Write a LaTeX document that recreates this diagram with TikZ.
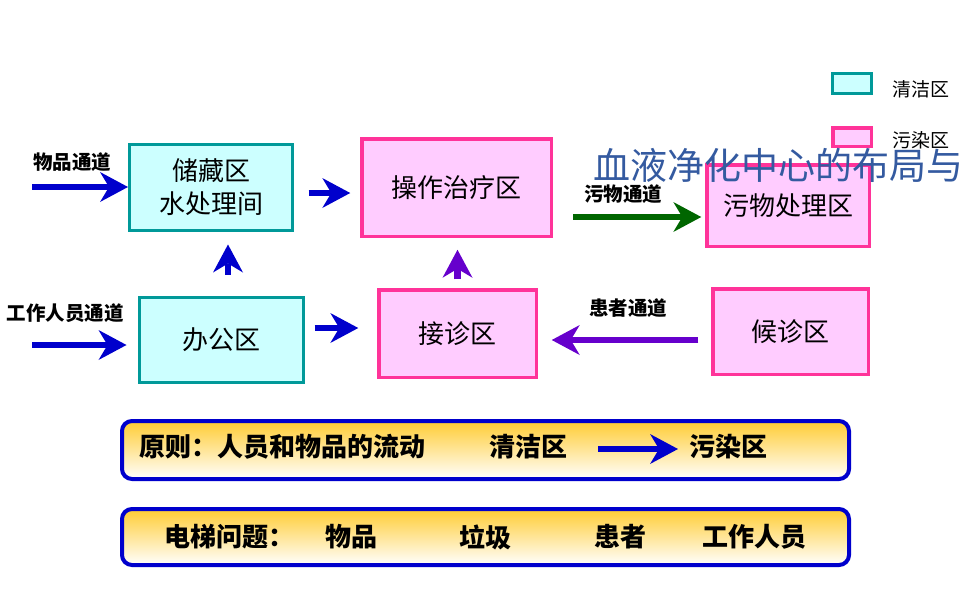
\documentclass[tikz,border=0pt]{standalone}
\usepackage{fontspec}
\setmainfont{Noto Sans CJK SC}
\usetikzlibrary{arrows.meta}
\definecolor{cleanline}{RGB}{0,153,153}
\definecolor{cleanfill}{RGB}{204,255,255}
\definecolor{dirtyline}{RGB}{255,51,153}
\definecolor{dirtyfill}{RGB}{255,204,255}
\definecolor{flowblue}{RGB}{0,0,204}
\definecolor{flowpurple}{RGB}{102,0,204}
\definecolor{flowgreen}{RGB}{0,102,0}
\definecolor{titleblue}{RGB}{52,90,160}
\definecolor{bangold}{RGB}{255,204,51}
\definecolor{banmid}{RGB}{255,236,150}
\tikzset{
  cleanbox/.style={draw=cleanline, fill=cleanfill, line width=3pt, inner sep=0pt,
    font=\fontsize{26}{33}\selectfont, align=center},
  dirtybox/.style={draw=dirtyline, fill=dirtyfill, line width=3.5pt, inner sep=0pt,
    font=\fontsize{26}{33}\selectfont, align=center},
  flow/.style={line width=6.5pt, -{Stealth[length=28pt,width=30pt,inset=9pt,line width=0pt]}},
  lbl/.style={inner sep=0pt, font=\bfseries\fontsize{19.5}{20}\selectfont},
  legtext/.style={inner sep=0pt, anchor=west, font=\fontsize{19}{19}\selectfont},
  banner/.style={draw=flowblue, line width=4pt, rounded corners=10pt, inner sep=0pt,
    top color=bangold, middle color=banmid, bottom color=white},
  btext/.style={inner sep=0pt, anchor=west, font=\bfseries\fontsize{26}{26}\selectfont}
}
\begin{document}
\begin{tikzpicture}[x=1pt,y=-1pt]
\useasboundingbox (0,0) rectangle (960,600);
% zone boxes
\node[cleanbox, minimum width=163pt, minimum height=86pt] (store) at (211,187.5) {储藏区\\水处理间};
\node[dirtybox, minimum width=189.5pt, minimum height=97.5pt] (op) at (456.5,187.5) {操作治疗区};
\node[dirtybox, minimum width=162.5pt, minimum height=81.5pt] (waste) at (788,205.5) {污物处理区};
\node[cleanbox, minimum width=164pt, minimum height=85pt] (office) at (221.5,340) {办公区};
\node[dirtybox, minimum width=157.5pt, minimum height=87.5pt] (recep) at (457.5,333.5) {接诊区};
\node[dirtybox, minimum width=155.5pt, minimum height=85.5pt] (wait) at (790.5,331.5) {候诊区};
% legend
\node[cleanbox, minimum width=39pt, minimum height=20pt] (legc) at (852,83.5) {};
\node[dirtybox, minimum width=38.5pt, minimum height=18.5pt] (legd) at (852,137) {};
\node[legtext] (legct) at (892,89) {清洁区};
\node[legtext] (legdt) at (892,140) {污染区};
% channel labels
\node[lbl] (lwp) at (72,162) {物品通道};
\node[lbl] (lws) at (65,313) {工作人员通道};
\node[lbl] (lwf) at (623,194) {污物通道};
\node[lbl] (lpt) at (628,308) {患者通道};
% arrows
\coordinate (s1) at (32,187);
\draw[flow, flowblue] (s1) -- (s1 -| store.west);
\coordinate (s2) at (32,345);
\draw[flow, flowblue, shorten >=11.5pt] (s2) -- (s2 -| office.west);
\draw[flow, flowblue, shorten <=21.5pt, shorten >=12.5pt]
  ([xshift=6.5pt]office.north) -- ([xshift=6.5pt]office.north |- store.south);
\draw[flow, flowblue, shorten <=14.5pt, shorten >=9.75pt]
  ([yshift=-5.5pt]store.east) -- ([yshift=-5.5pt]store.east -| op.west);
\draw[flow, flowblue, shorten <=9.5pt, shorten >=18.75pt]
  ([yshift=12pt]office.east) -- ([yshift=12pt]office.east -| recep.west);
\draw[flow, flowpurple, shorten <=8.75pt, shorten >=11.75pt]
  (recep.north) -- (recep.north |- op.south);
\coordinate (s3) at (573,217);
\draw[flow, flowgreen, shorten >=3.75pt] (s3) -- (s3 -| waste.west);
\draw[flow, flowpurple, shorten <=12.75pt, shorten >=13.75pt]
  ([yshift=-8.5pt]wait.west) -- ([yshift=-8.5pt]wait.west -| recep.east);
% banners
\node[banner, minimum width=727pt, minimum height=58pt] (b1) at (485.5,450) {};
\node[btext] (b1a) at (139,447) {原则：人员和物品的流动};
\node[btext] (b1b) at (489,447) {清洁区};
\node[btext] (b1c) at (689,447) {污染区};
\coordinate (b1s) at (598,449);
\coordinate (b1e) at (678,449);
\draw[flow, flowblue] (b1s) -- (b1e);
\node[banner, minimum width=727pt, minimum height=56pt] (b2) at (485.5,537) {};
\node[btext] (b2a) at (164,537) {电梯问题：};
\node[btext] (b2b) at (325,537) {物品};
\node[btext] (b2c) at (459,537) {垃圾};
\node[btext] (b2d) at (594,537) {患者};
\node[btext] (b2e) at (702,537) {工作人员};
% title (cut off at the right edge)
\begin{scope}
\clip (0,0) rectangle (960,600);
\node[anchor=west, inner sep=0pt, text=titleblue, font=\fontsize{37}{37}\selectfont] (title) at (593,165) {血液净化中心的布局与};
\end{scope}
\end{tikzpicture}
\end{document}
